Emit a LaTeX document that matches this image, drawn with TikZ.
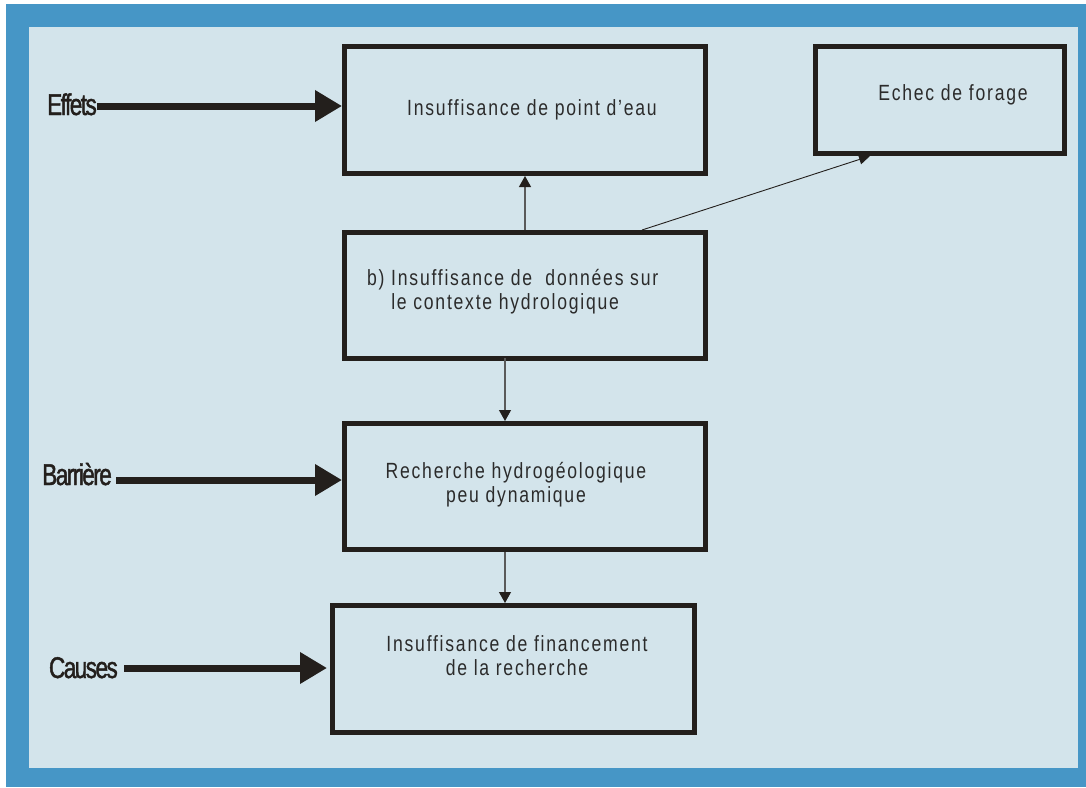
\documentclass[tikz,border=0pt]{standalone}
\usepackage{fontspec}
\setmainfont{Liberation Sans}
\newfontfamily\boxfont[LetterSpace=8,FakeStretch=0.8]{Liberation Sans}
\newfontfamily\labfont[LetterSpace=-5,FakeStretch=0.75,FakeBold=1.5]{Liberation Sans}
\usetikzlibrary{arrows.meta}
\definecolor{frameblue}{HTML}{4696C6}
\definecolor{panel}{HTML}{D3E4EB}
\definecolor{ink}{HTML}{231F1C}
\definecolor{txt}{HTML}{2B2B2B}
\definecolor{thinline}{HTML}{5A5A5A}
\begin{document}
\begin{tikzpicture}[x=1pt,y=-1pt,
  box/.style={draw=ink, line width=5pt, fill=panel, inner sep=0pt},
  boxtext/.style={font=\boxfont\fontsize{22}{24}\selectfont, text=txt, inner sep=0pt, align=center},
  lab/.style={font=\labfont\fontsize{30}{32}\selectfont, text=ink, inner sep=0pt, anchor=base east},
  bigarrow/.style={draw=ink, line width=7pt, -{Triangle[length=27pt,width=30pt,color=ink]}},
  thinarrow/.style={draw=thinline, line width=1.2pt, -{Triangle[length=11pt,width=12pt,color=ink]}},
  diagarrow/.style={draw=ink, line width=0.9pt, -{Triangle[length=11pt,width=10pt,color=ink]}}
]
\useasboundingbox (0,0) rectangle (1086,787);
\fill[white] (0,0) rectangle (1086,787);
\fill[frameblue] (6,4) rectangle (1086,787);
\fill[panel] (29,27) rectangle (1078,768);

% boxes
\node[box, minimum width=361pt, minimum height=127pt] (b1) at (525,110) {};
\node[box, minimum width=361pt, minimum height=126pt] (b2) at (525,295.5) {};
\node[box, minimum width=361pt, minimum height=126pt] (b3) at (525,486.5) {};
\node[box, minimum width=362pt, minimum height=127pt] (b4) at (513.5,669) {};
\node[box, minimum width=249pt, minimum height=107pt] (ech) at (940,100) {};

% texts
\node[boxtext] (t1) at (532,110) {Insuffisance de point d’eau};
\node[boxtext, align=left, anchor=west] (t2) at (367,291.5) {b) Insuffisance de~~données sur\\\hphantom{b)~}le contexte hydrologique};
\node[boxtext] (t3) at (516,484.5) {Recherche hydrogéologique\\peu dynamique};
\node[boxtext] (t4) at (517,655.5) {Insuffisance de financement\\de la recherche};
\node[boxtext] (t5) at (953,95) {Echec de forage};

% labels
\node[lab] (l1) at (97,115) {Effets};
\node[lab] (l2) at (112,485) {Barrière};
\node[lab] (l3) at (118,678) {Causes};
\coordinate (a1) at (97,106);
\coordinate (a2) at (116,480);
\coordinate (a3) at (127,668);
\draw[bigarrow] (a1) -- (a1 -| b1.west);
\draw[bigarrow] (a2) -- (a2 -| b3.west);
\draw[bigarrow] ([xshift=-3pt]a3) -- ([xshift=-3pt]a3 -| b4.west);

% connectors
\draw[thinarrow] (b2.north) -- (b1.south);
\draw[thinarrow] ([xshift=-20pt,yshift=3pt]b2.south) -- ([xshift=-20pt]b2.south |- b3.north);
\draw[thinarrow] ([xshift=-20pt]b3.south) -- ([xshift=-20pt]b3.south |- b4.north);
\draw[diagarrow] ([xshift=117pt]b2.north) -- ([xshift=-70pt]ech.south);
\end{tikzpicture}
\end{document}
